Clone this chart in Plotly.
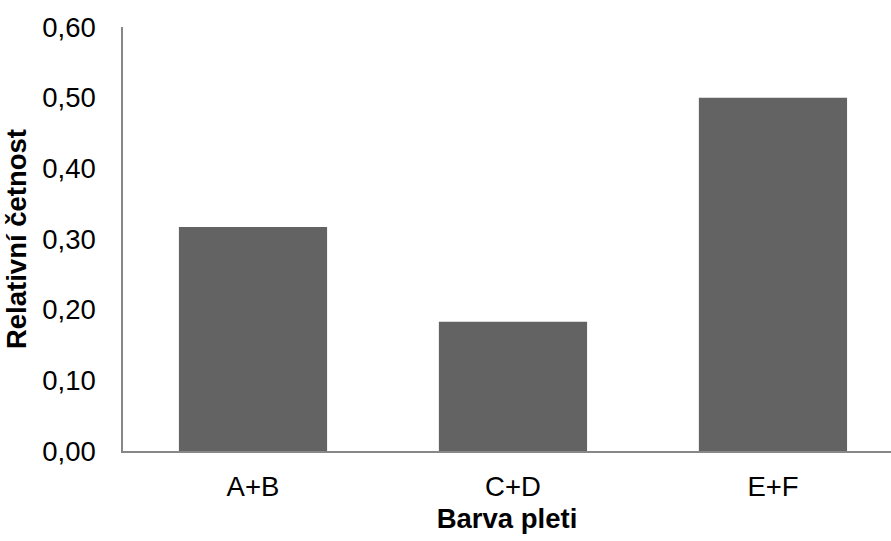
import plotly.graph_objects as go

# Relative frequency of skin-colour groups
categories = ["A+B", "C+D", "E+F"]
rel_freq = [0.317, 0.183, 0.50]
y_ticks = [0.0, 0.1, 0.2, 0.3, 0.4, 0.5, 0.6]
y_tick_labels = ["0,00", "0,10", "0,20", "0,30", "0,40", "0,50", "0,60"]

FONT = "Liberation Sans, Arial, sans-serif"

fig = go.Figure(
    go.Bar(
        x=list(range(len(categories))),
        y=rel_freq,
        width=0.57,
        marker=dict(color="#636363", line=dict(width=0)),
    )
)

fig.update_layout(
    width=891,
    height=541,
    margin=dict(l=123, r=0, t=27, b=90),
    paper_bgcolor="white",
    plot_bgcolor="white",
    showlegend=False,
    font=dict(family=FONT, color="black"),
)

fig.update_xaxes(
    range=[-0.5, 2.454],
    tickmode="array",
    tickvals=list(range(len(categories))),
    ticktext=categories,
    tickfont=dict(size=27.5),
    showgrid=False,
    zeroline=False,
    showline=True,
    linecolor="#878787",
    linewidth=1.5,
    ticks="",
    ticklabelstandoff=10,
    title=dict(text="<b>Barva pleti</b>", font=dict(size=27.5), standoff=8),
)

fig.update_yaxes(
    range=[0, 0.6],
    tickmode="array",
    tickvals=y_ticks,
    ticktext=y_tick_labels,
    tickfont=dict(size=27.5),
    showgrid=False,
    zeroline=False,
    showline=True,
    linecolor="#878787",
    linewidth=1.5,
    ticks="",
    ticklabelstandoff=20,
    title=dict(text="<b>Relativní četnost</b>", font=dict(size=27.5), standoff=8),
)

fig.write_html("out.html")
